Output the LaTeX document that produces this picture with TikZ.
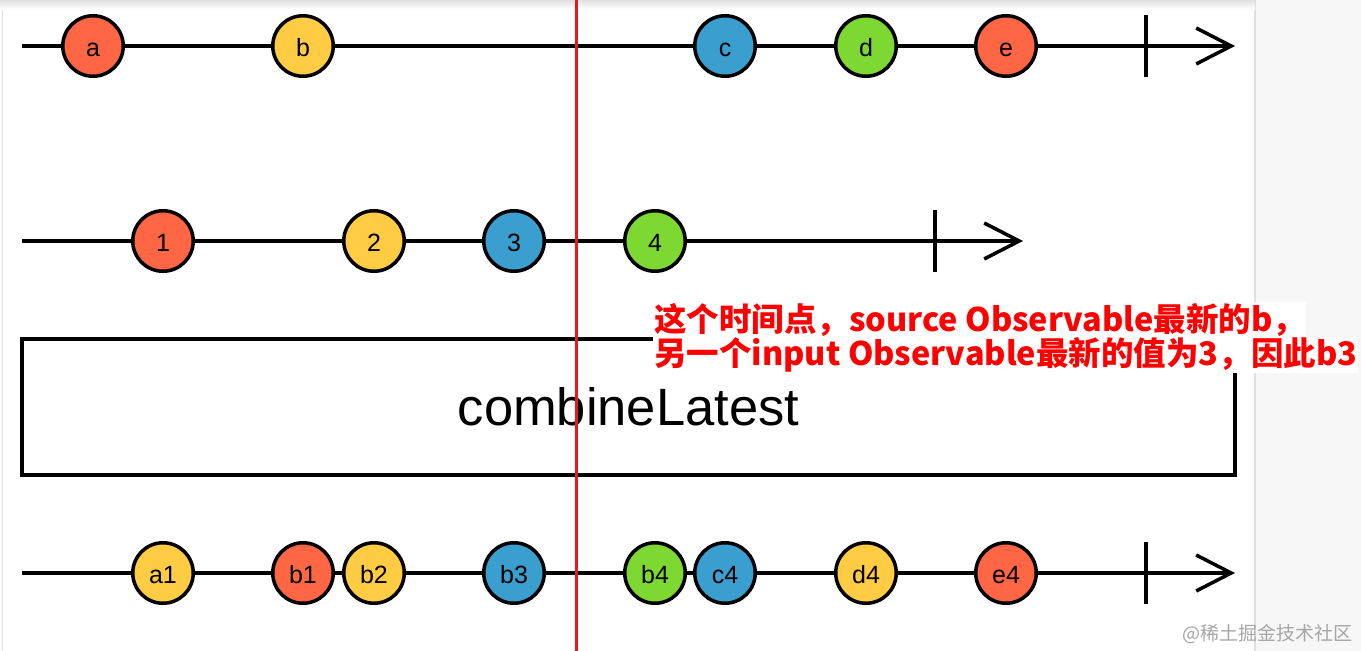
\documentclass[tikz,border=0pt]{standalone}
\usepackage{fontspec}
\setmainfont{Liberation Sans}
\newfontfamily\cjk{Noto Sans CJK SC}
\usetikzlibrary{arrows.meta,positioning}
\definecolor{mred}{RGB}{255,102,68}
\definecolor{myellow}{RGB}{255,204,68}
\definecolor{mblue}{RGB}{58,158,206}
\definecolor{mgreen}{RGB}{126,216,50}
\definecolor{strip}{RGB}{247,247,247}
\definecolor{stripline}{RGB}{224,224,224}
\definecolor{cutred}{RGB}{226,28,28}

\begin{document}
\begin{tikzpicture}[x=1pt,y=-1pt,
    marble/.style={circle,draw=black,line width=3.5pt,minimum size=60.5pt,inner sep=0pt,
      font=\fontsize{25}{25}\selectfont,text height=20pt,text depth=0pt},
    timeline/.style={line width=3.5pt,-{Straight Barb[length=35pt,width=36pt]}},
    tick/.style={line width=3.5pt},
    note/.style={anchor=west,fill=white,inner sep=1pt,text=red,
      font=\cjk\bfseries\fontsize{32.5}{32.5}\selectfont}]
    \useasboundingbox (0,0) rectangle (1361,651);
    % page background
    \fill[white] (0,0) rectangle (1361,651);
    \fill[strip] (1255,0) rectangle (1361,651);
    \draw[stripline,line width=1.5pt] (1255,0) -- (1255,651);
    \draw[stripline,line width=1pt] (2,0) -- (2,651);
    \shade[top color=black!12,bottom color=white] (0,0) rectangle (1255,9);
    % time lines
    \coordinate (s1) at (22,46);
    \coordinate (e1) at (1235,46);
    \coordinate (k1) at (1146,46);
    \coordinate (s2) at (22,241);
    \coordinate (e2) at (1023,241);
    \coordinate (k2) at (935,241);
    \coordinate (s3) at (22,573);
    \coordinate (e3) at (1235,573);
    \coordinate (k3) at (1146,573);
    \draw[timeline] (s1) -- (e1);
    \draw[timeline] (s2) -- (e2);
    \draw[timeline] (s3) -- (e3);
    \draw[tick] (k1) ++(0,-31) -- ++(0,62);
    \draw[tick] (k2) ++(0,-31) -- ++(0,62);
    \draw[tick] (k3) ++(0,-31) -- ++(0,62);
    % operator box
    \node[draw,line width=3.5pt,minimum width=1213pt,minimum height=136pt,inner sep=0pt,
      font=\fontsize{52.5}{52.5}\selectfont] (op) at (628.5,407) {combineLatest};
    % source
    \node[marble,fill=mred] (a) at (93,46) {a};
    \node[marble,fill=myellow] (b) at (303,46) {b};
    \node[marble,fill=mblue] (c) at (725,46) {c};
    \node[marble,fill=mgreen] (d) at (866,46) {d};
    \node[marble,fill=mred] (e) at (1006,46) {e};
    % input
    \node[marble,fill=mred] (x1) at (163,241) {1};
    \node[marble,fill=myellow] (x2) at (374,241) {2};
    \node[marble,fill=mblue] (x3) at (514,241) {3};
    \node[marble,fill=mgreen] (x4) at (655,241) {4};
    % output
    \node[marble,fill=myellow] (a1) at (163,573) {a1};
    \node[marble,fill=mred] (b1) at (303,573) {b1};
    \node[marble,fill=myellow] (b2) at (374,573) {b2};
    \node[marble,fill=mblue] (b3) at (514,573) {b3};
    \node[marble,fill=mgreen] (b4) at (655,573) {b4};
    \node[marble,fill=mblue] (c4) at (725,573) {c4};
    \node[marble,fill=myellow] (d4) at (866,573) {d4};
    \node[marble,fill=mred] (e4) at (1006,573) {e4};
    % moment marker
    \coordinate (ct) at (576,0);
    \coordinate (cb) at (576,651);
    \draw[cutred,line width=3pt] (ct) -- (cb);
    \node[note] (note1) at (653,320) {这个时间点，source Observable最新的b，};
    \node[note] (note2) at (653,355) {另一个input Observable最新的值为3，因此b3};
    \node[anchor=east,text=black!35,font=\cjk\fontsize{19}{19}\selectfont] (wm) at (1356,634) {@稀土掘金技术社区};
\end{tikzpicture}
\end{document}
